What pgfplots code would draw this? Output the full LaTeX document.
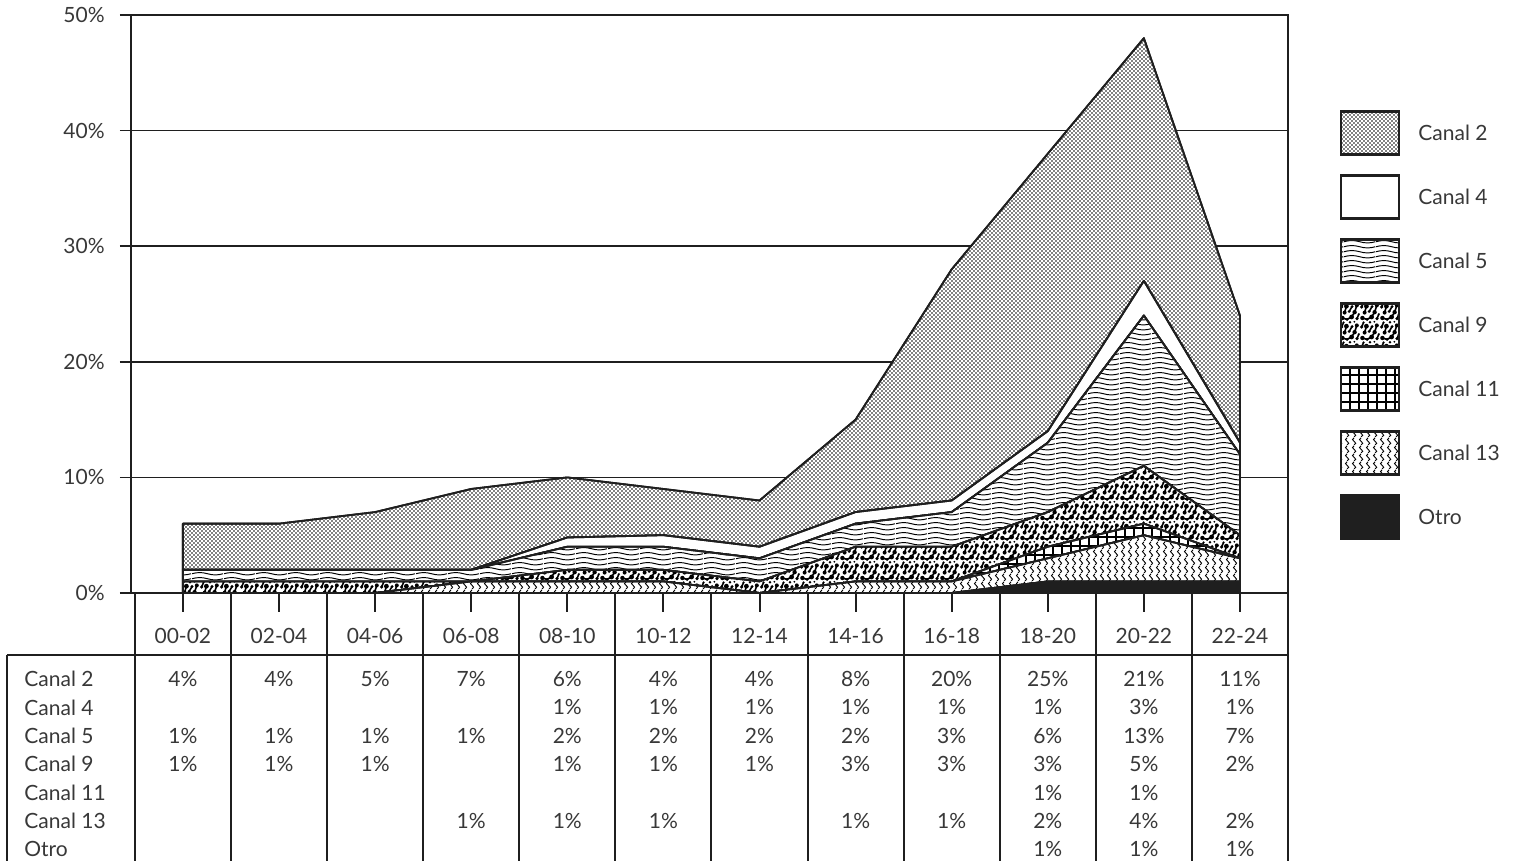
\documentclass[border=0pt]{standalone}
\usepackage{fontspec}
\setmainfont{Lato}
\usepackage{pgfplots}
\pgfplotsset{compat=1.18}
\usetikzlibrary{patterns}

\definecolor{ink}{gray}{0.12}
\definecolor{txt}{gray}{0.22}

% fine dot screen (Canal 2)
\pgfdeclarepatternformonly{fdots}{\pgfqpoint{-0.5pt}{-0.5pt}}{\pgfqpoint{2.5pt}{2.5pt}}{\pgfqpoint{2pt}{2pt}}{%
  \pgfpathcircle{\pgfqpoint{0pt}{0pt}}{0.42pt}
  \pgfpathcircle{\pgfqpoint{1pt}{1pt}}{0.42pt}
  \pgfusepath{fill}}
% horizontal waves (Canal 5)
\pgfdeclarepatternformonly{hwaves}{\pgfqpoint{0pt}{0pt}}{\pgfqpoint{16pt}{2.6pt}}{\pgfqpoint{16pt}{2.6pt}}{%
  \pgfsetlinewidth{0.55pt}
  \pgfpathmoveto{\pgfqpoint{0pt}{1.3pt}}
  \pgfpathsine{\pgfqpoint{4pt}{0.7pt}}
  \pgfpathcosine{\pgfqpoint{4pt}{-0.7pt}}
  \pgfpathsine{\pgfqpoint{4pt}{-0.7pt}}
  \pgfpathcosine{\pgfqpoint{4pt}{0.7pt}}
  \pgfusepath{stroke}}
% blotches (Canal 9)
\pgfdeclarepatternformonly{blotch}{\pgfqpoint{-1.5pt}{-1.5pt}}{\pgfqpoint{11.5pt}{11.5pt}}{\pgfqpoint{10pt}{10pt}}{%
  \pgfpathcircle{\pgfqpoint{1.2pt}{1.5pt}}{1.1pt}
  \pgfpathcircle{\pgfqpoint{3.5pt}{0.8pt}}{0.8pt}
  \pgfpathcircle{\pgfqpoint{5.8pt}{2.0pt}}{1.2pt}
  \pgfpathcircle{\pgfqpoint{8.5pt}{1.2pt}}{0.9pt}
  \pgfpathcircle{\pgfqpoint{2.3pt}{4.2pt}}{1.0pt}
  \pgfpathcircle{\pgfqpoint{4.6pt}{4.8pt}}{0.8pt}
  \pgfpathcircle{\pgfqpoint{7.3pt}{4.4pt}}{1.1pt}
  \pgfpathcircle{\pgfqpoint{9.4pt}{3.4pt}}{0.6pt}
  \pgfpathcircle{\pgfqpoint{0.8pt}{7.0pt}}{0.9pt}
  \pgfpathcircle{\pgfqpoint{3.2pt}{7.4pt}}{1.2pt}
  \pgfpathcircle{\pgfqpoint{6.0pt}{7.2pt}}{0.8pt}
  \pgfpathcircle{\pgfqpoint{8.4pt}{7.8pt}}{1.0pt}
  \pgfpathcircle{\pgfqpoint{1.8pt}{9.3pt}}{0.6pt}
  \pgfpathcircle{\pgfqpoint{5.0pt}{9.4pt}}{0.7pt}
  \pgfpathcircle{\pgfqpoint{7.2pt}{9.6pt}}{0.5pt}
  \pgfusepath{fill}
  \pgfsetlinewidth{0.8pt}
  \pgfpathmoveto{\pgfqpoint{1.2pt}{1.5pt}}\pgfpathlineto{\pgfqpoint{3.5pt}{0.8pt}}\pgfpathlineto{\pgfqpoint{5.8pt}{2pt}}
  \pgfpathmoveto{\pgfqpoint{2.3pt}{4.2pt}}\pgfpathlineto{\pgfqpoint{3.2pt}{7.4pt}}
  \pgfpathmoveto{\pgfqpoint{5.8pt}{2pt}}\pgfpathlineto{\pgfqpoint{7.3pt}{4.4pt}}\pgfpathlineto{\pgfqpoint{8.4pt}{7.8pt}}
  \pgfpathmoveto{\pgfqpoint{4.6pt}{4.8pt}}\pgfpathlineto{\pgfqpoint{6pt}{7.2pt}}
  \pgfpathmoveto{\pgfqpoint{0.8pt}{7pt}}\pgfpathlineto{\pgfqpoint{1.8pt}{9.3pt}}
  \pgfpathmoveto{\pgfqpoint{8.5pt}{1.2pt}}\pgfpathlineto{\pgfqpoint{9.4pt}{3.4pt}}
  \pgfusepath{stroke}}
% grid (Canal 11)
\pgfdeclarepatternformonly{mgrid}{\pgfqpoint{-0.5pt}{-0.5pt}}{\pgfqpoint{5pt}{5pt}}{\pgfqpoint{4.5pt}{4.5pt}}{%
  \pgfsetlinewidth{0.6pt}
  \pgfpathmoveto{\pgfqpoint{-0.5pt}{0pt}}\pgfpathlineto{\pgfqpoint{5pt}{0pt}}
  \pgfpathmoveto{\pgfqpoint{0pt}{-0.5pt}}\pgfpathlineto{\pgfqpoint{0pt}{5pt}}
  \pgfusepath{stroke}}
% vertical waves (Canal 13)
\pgfdeclarepatternformonly{vwaves}{\pgfqpoint{0pt}{0pt}}{\pgfqpoint{3.5pt}{4pt}}{\pgfqpoint{3.5pt}{4pt}}{%
  \pgfsetlinewidth{0.5pt}
  \pgfpathmoveto{\pgfqpoint{1.75pt}{0pt}}
  \pgfpathcurveto{\pgfqpoint{2.95pt}{0.7pt}}{\pgfqpoint{2.95pt}{1.3pt}}{\pgfqpoint{1.75pt}{2pt}}
  \pgfpathcurveto{\pgfqpoint{0.55pt}{2.7pt}}{\pgfqpoint{0.55pt}{3.3pt}}{\pgfqpoint{1.75pt}{4pt}}
  \pgfusepath{stroke}}

\pgfplotsset{
  layer/.style={draw=ink, line width=0.9pt, line join=round, preaction={fill=white}},
}

\begin{document}
\fontsize{10.5}{12}\selectfont
\begin{tikzpicture}
\begin{axis}[
  scale only axis, width=578.5pt, height=289pt,
  xmin=-0.54, xmax=11.5, ymin=0, ymax=50,
  stack plots=y,
  axis line style={line width=1.1pt, draw=ink},
  xtick=\empty,
  ytick={0,10,...,50}, ytick pos=left,
  yticklabel={\pgfmathprintnumber{\tick}\%},
  /pgf/number format/assume math mode=true,
  yticklabel style={text=txt, xshift=-4pt},
  ymajorgrids, grid style={line width=0.8pt, draw=ink},
  tick align=outside, major tick length=5.5pt,
  tick style={line width=0.8pt, draw=ink},
]
% Otro
\addplot[layer, fill=ink] coordinates {(0,0)(1,0)(2,0)(3,0)(4,0)(5,0)(6,0)(7,0)(8,0)(9,1)(10,1)(11,1)} \closedcycle;
% Canal 13
\addplot[layer, pattern=vwaves] coordinates {(0,0)(1,0)(2,0)(3,1)(4,1)(5,1)(6,0)(7,1)(8,1)(9,2)(10,4)(11,2)} \closedcycle;
% Canal 11
\addplot[layer, pattern=mgrid] coordinates {(0,0)(1,0)(2,0)(3,0)(4,0)(5,0)(6,0)(7,0)(8,0)(9,1)(10,1)(11,0)} \closedcycle;
% Canal 9
\addplot[layer, pattern=blotch] coordinates {(0,1)(1,1)(2,1)(3,0)(4,1)(5,1)(6,1)(7,3)(8,3)(9,3)(10,5)(11,2)} \closedcycle;
% Canal 5
\addplot[layer, pattern=hwaves] coordinates {(0,1)(1,1)(2,1)(3,1)(4,2)(5,2)(6,2)(7,2)(8,3)(9,6)(10,13)(11,7)} \closedcycle;
% Canal 4
\addplot[layer] coordinates {(0,0)(1,0)(2,0)(3,0)(4,0.8)(5,1)(6,1)(7,1)(8,1)(9,1)(10,3)(11,1)} \closedcycle;
% Canal 2
\addplot[layer, pattern=fdots] coordinates {(0,4)(1,4)(2,5)(3,7)(4,5.2)(5,4)(6,4)(7,8)(8,20)(9,24)(10,21)(11,11)} \closedcycle;
\end{axis}

% table under the axis
\begin{scope}[draw=ink, line width=1pt]
  \foreach \k in {0,...,12}
    \draw ({(\k+0.04)*48.05pt},0pt) -- ({(\k+0.04)*48.05pt},-140pt);
  \foreach \i in {0,...,11}
    \draw ({(\i+0.54)*48.05pt},0pt) -- ({(\i+0.54)*48.05pt},-9.5pt);
  \draw (-62pt,-31pt) -- ({12.04*48.05pt},-31pt);
  \draw (-62pt,-31pt) -- (-62pt,-140pt);
\end{scope}
\foreach \h [count=\i from 0] in {00-02,02-04,04-06,06-08,08-10,10-12,12-14,14-16,16-18,18-20,20-22,22-24}
  \node[text=txt] at ({(\i+0.54)*48.05pt},-21.5pt) {\h};
\foreach \name/\vals [count=\r from 0] in {
  Canal 2/{4,4,5,7,6,4,4,8,20,25,21,11},
  Canal 4/{0,0,0,0,1,1,1,1,1,1,3,1},
  Canal 5/{1,1,1,1,2,2,2,2,3,6,13,7},
  Canal 9/{1,1,1,0,1,1,1,3,3,3,5,2},
  Canal 11/{0,0,0,0,0,0,0,0,0,1,1,0},
  Canal 13/{0,0,0,1,1,1,0,1,1,2,4,2},
  Otro/{0,0,0,0,0,0,0,0,0,1,1,1}} {
  \node[text=txt, anchor=west] at (-57pt,{-43pt-14.2pt*\r}) {\name};
  \foreach \v [count=\i from 0] in \vals {
    \ifnum\v>0
      \node[text=txt] at ({(\i+0.54)*48.05pt},{-43pt-14.2pt*\r}) {\v\%};
    \fi
  }
}

% legend
\foreach \name [count=\j from 0] in {Canal 2, Canal 4, Canal 5, Canal 9, Canal 11, Canal 13, Otro} {
  \pgfmathsetmacro{\yy}{230-32*\j}
  \node[text=txt, anchor=west] at (640pt,\yy pt) {\name};
}
\def\legbox#1#2{\draw[draw=ink, line width=1.4pt, preaction={fill=white}, #2] (605pt,{#1-10.75pt}) rectangle ++(29pt,21.5pt);}
\legbox{230pt}{pattern=fdots}
\legbox{198pt}{}
\legbox{166pt}{pattern=hwaves}
\legbox{134pt}{pattern=blotch}
\legbox{102pt}{pattern=mgrid}
\legbox{70pt}{pattern=vwaves}
\legbox{38pt}{fill=ink}

\pgfresetboundingbox
\path[use as bounding box] (-65.5pt,-134pt) rectangle (691.5pt,296.5pt);
\end{tikzpicture}
\end{document}
